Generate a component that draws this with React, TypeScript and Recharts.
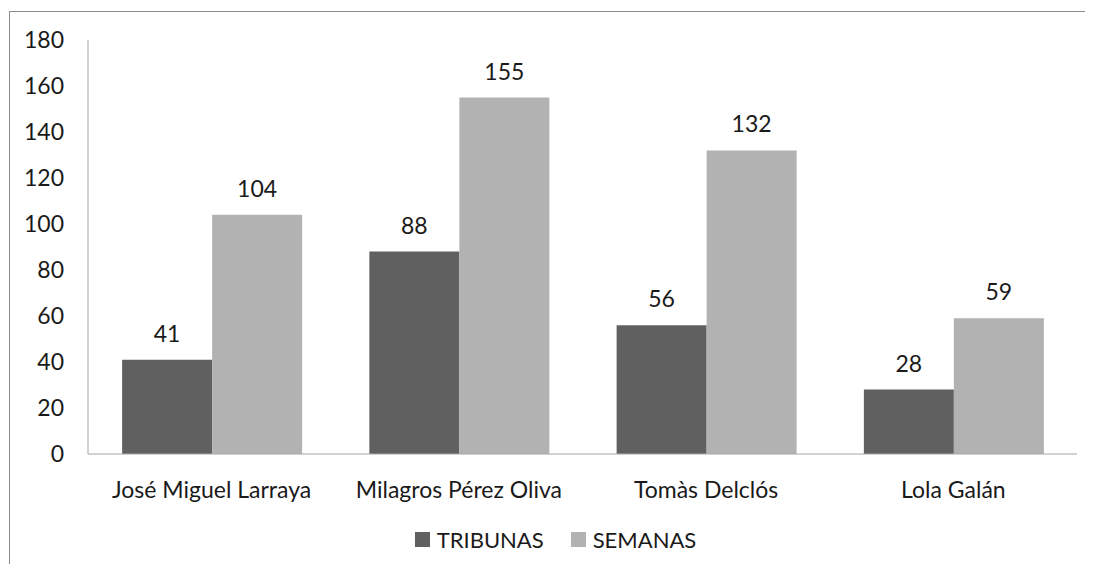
import { BarChart, Bar, XAxis, YAxis, Legend, LabelList } from "recharts";

const categories = ["José Miguel Larraya", "Milagros Pérez Oliva", "Tomàs Delclós", "Lola Galán"];
const tribunas = [41, 88, 56, 28];
const semanas = [104, 155, 132, 59];
const yTicks = [0, 20, 40, 60, 80, 100, 120, 140, 160, 180];
const seriesNames = ["TRIBUNAS", "SEMANAS"];
const seriesColors = ["#606060", "#b2b2b2"];

const data = categories.map((name, i) => ({
  name,
  TRIBUNAS: tribunas[i],
  SEMANAS: semanas[i],
}));

const FONT = "Lato, 'Open Sans', sans-serif";
const TEXT = "#1a1a1a";
const FS = 23;

const LegendBox = () => (
  <div style={{ display: "flex", justifyContent: "center", alignItems: "center", fontFamily: FONT, paddingLeft: 34 }}>
    {seriesNames.map((n, i) => (
      <div key={n} style={{ display: "flex", alignItems: "center", marginRight: i === 0 ? 27 : 0 }}>
        <span style={{ width: 15, height: 15, background: seriesColors[i], display: "inline-block", marginRight: 7 }} />
        <span style={{ color: TEXT, fontSize: 22 }}>{n}</span>
      </div>
    ))}
  </div>
);

const App = () => {
  return (
    <div style={{ position: "relative", margin: -8, width: 1093, height: 572, overflow: "hidden", background: "#fff" }}>
      <div
        style={{
          position: "absolute",
          left: 9,
          top: 11,
          width: 1200,
          height: 700,
          border: "1px solid #8c8c8c",
        }}
      />
      <div style={{ position: "absolute", left: 0, top: 0 }}>
        <BarChart
          width={1093}
          height={572}
          data={data}
          margin={{ top: 40, right: 16, bottom: 16, left: 0 }}
          barCategoryGap="13.8%"
          barGap={0}
          style={{ fontFamily: FONT }}
        >
          <YAxis
            width={88}
            domain={[0, 180]}
            ticks={yTicks}
            interval={0}
            tickLine={false}
            tickSize={0}
            tickMargin={24}
            axisLine={{ stroke: "#a6a6a6" }}
            tick={{ fill: TEXT, fontSize: FS }}
          />
          <XAxis
            dataKey="name"
            height={72}
            tickLine={false}
            tickSize={0}
            tickMargin={28}
            axisLine={{ stroke: "#a6a6a6" }}
            tick={{ fill: TEXT, fontSize: FS }}
          />
          <Legend verticalAlign="bottom" height={30} content={() => <LegendBox />} />
          <Bar dataKey="TRIBUNAS" fill={seriesColors[0]} isAnimationActive={false}>
            <LabelList dataKey="TRIBUNAS" position="top" offset={18} fill={TEXT} fontSize={FS} />
          </Bar>
          <Bar dataKey="SEMANAS" fill={seriesColors[1]} isAnimationActive={false}>
            <LabelList dataKey="SEMANAS" position="top" offset={18} fill={TEXT} fontSize={FS} />
          </Bar>
        </BarChart>
      </div>
    </div>
  );
};

export default App;
